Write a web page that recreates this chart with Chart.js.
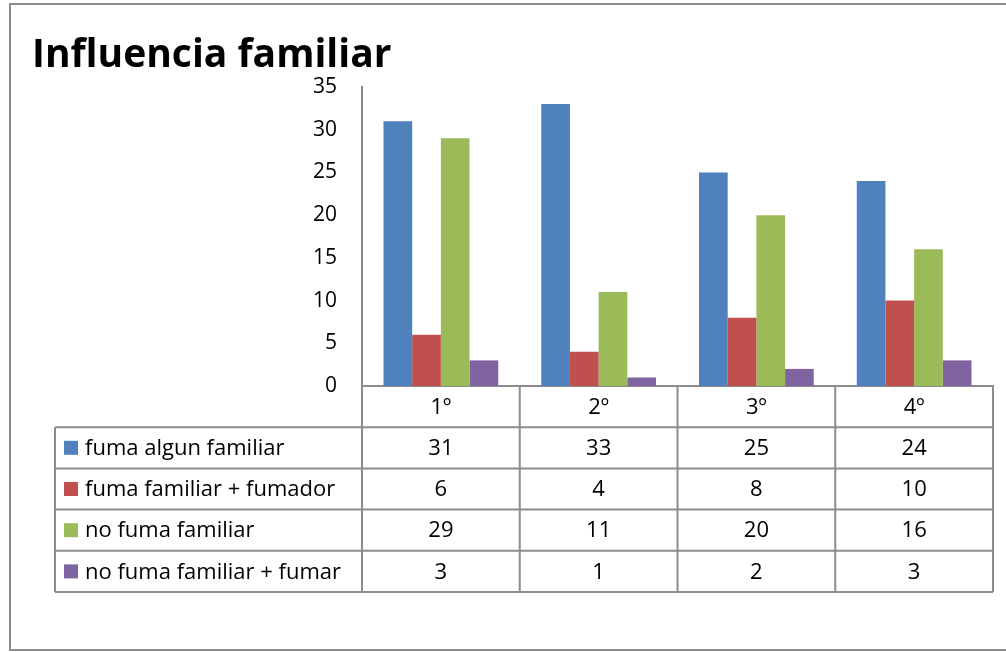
<!DOCTYPE html>
<html>
<head>
<meta charset="utf-8">
<script src="https://cdn.jsdelivr.net/npm/chart.js@4"></script>
<style>
  html, body { margin: 0; padding: 0; background: #fff; }
  #wrap { width: 1006px; height: 652px; }
</style>
</head>
<body>
<div id="wrap"><canvas id="familyChart" width="1006" height="652"></canvas></div>
<script>
const categories = ['1º', '2º', '3º', '4º'];
const seriesNames = ['fuma algun familiar', 'fuma familiar + fumador', 'no fuma familiar', 'no fuma familiar + fumar'];
const fumaAlgun = [31, 33, 25, 24];
const fumaFumador = [6, 4, 8, 10];
const noFuma = [29, 11, 20, 16];
const noFumaFumar = [3, 1, 2, 3];
const yTicks = [0, 5, 10, 15, 20, 25, 30, 35];

const colors = ['#4F81BD', '#C0504D', '#9BBB59', '#8064A2'];
const FONT = '"Open Sans", Lato, sans-serif';
const LINE = '#8c8c8c';

// table under the plot, drawn from the same arrays and the x scale
const tablePlugin = {
  id: 'dataTable',
  afterDraw(chart) {
    const ctx = chart.ctx;
    const area = chart.chartArea;
    const xs = chart.scales.x;
    const rowH = 41.2;
    const tableLeft = 55;
    const top = area.bottom;
    const colW = (area.right - area.left) / categories.length;
    const rows = [fumaAlgun, fumaFumador, noFuma, noFumaFumar];

    ctx.save();
    // outer frame
    ctx.strokeStyle = LINE;
    ctx.lineWidth = 2;
    ctx.strokeRect(10, 4, 1010, 646);

    // title
    ctx.fillStyle = '#000';
    ctx.font = 'bold 39px ' + FONT;
    ctx.textAlign = 'left';
    ctx.textBaseline = 'alphabetic';
    ctx.fillText('Influencia familiar', 32, 67);

    // grid lines of the table
    ctx.beginPath();
    for (let r = 0; r <= rows.length; r++) {
      const y = top + rowH * (r + 1);
      ctx.moveTo(tableLeft, y);
      ctx.lineTo(area.right, y);
    }
    ctx.moveTo(tableLeft, top + rowH);
    ctx.lineTo(tableLeft, top + rowH * 5);
    for (let c = 0; c <= categories.length; c++) {
      const x = area.left + c * colW;
      ctx.moveTo(x, top);
      ctx.lineTo(x, top + rowH * 5);
    }
    ctx.stroke();

    ctx.font = '22px ' + FONT;
    ctx.textBaseline = 'middle';
    ctx.textAlign = 'center';
    categories.forEach((cat, i) => {
      ctx.fillText(cat, xs.getPixelForValue(i), top + rowH / 2 + 1);
    });
    rows.forEach((vals, r) => {
      const cy = top + rowH * (r + 1) + rowH / 2 + 1;
      ctx.textAlign = 'left';
      ctx.fillStyle = colors[r];
      ctx.fillRect(64, cy - 8, 14, 14);
      ctx.fillStyle = '#000';
      ctx.fillText(seriesNames[r], 85, cy);
      ctx.textAlign = 'center';
      vals.forEach((v, i) => {
        ctx.fillText(String(v), xs.getPixelForValue(i), cy);
      });
    });
    ctx.restore();
  }
};

new Chart(document.getElementById('familyChart'), {
  type: 'bar',
  data: {
    labels: categories,
    datasets: [
      { label: seriesNames[0], data: fumaAlgun, backgroundColor: colors[0] },
      { label: seriesNames[1], data: fumaFumador, backgroundColor: colors[1] },
      { label: seriesNames[2], data: noFuma, backgroundColor: colors[2] },
      { label: seriesNames[3], data: noFumaFumar, backgroundColor: colors[3] }
    ]
  },
  options: {
    responsive: false,
    animation: false,
    layout: { padding: { left: 292, top: 87, right: 13, bottom: 266 } },
    datasets: { bar: { categoryPercentage: 4 / 5.5, barPercentage: 1 } },
    plugins: { legend: { display: false }, tooltip: { enabled: false }, title: { display: false } },
    scales: {
      x: {
        grid: { display: false },
        border: { color: LINE, width: 2 },
        ticks: { display: false },
        afterFit(scale) { scale.height = 0; }
      },
      y: {
        min: 0, max: 35,
        afterBuildTicks(scale) { scale.ticks = yTicks.map(v => ({ value: v })); },
        grid: { display: false, drawTicks: false },
        border: { color: LINE, width: 2 },
        ticks: { color: '#000', padding: 25, font: { family: FONT, size: 21 } },
        afterFit(scale) { scale.width = 70; }
      }
    }
  },
  plugins: [tablePlugin]
});
</script>
</body>
</html>
